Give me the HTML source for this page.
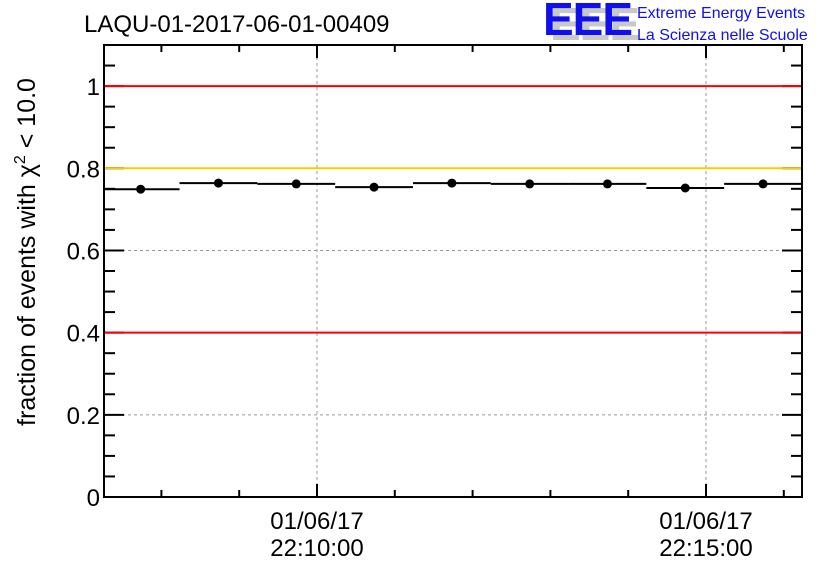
<!DOCTYPE html>
<html><head><meta charset="utf-8"><style>
body{margin:0;background:#fff}
svg text{font-family:"Liberation Sans",sans-serif}
</style></head><body>
<svg id="c" width="836" height="572" xmlns="http://www.w3.org/2000/svg">
<rect width="836" height="572" fill="#fff"/>
<text x="84" y="32" font-size="24" fill="#000">LAQU-01-2017-06-01-00409</text>
<g>
<text x="550" y="40" font-size="46" font-weight="bold" fill="#c8c8c8" letter-spacing="-1">EEE</text>
<text x="543" y="35" font-size="46" font-weight="bold" fill="#1010ee" letter-spacing="-1">EEE</text>
<text x="637" y="18" font-size="16" fill="#1010ee">Extreme Energy Events</text>
<text x="637" y="40" font-size="16" fill="#1010ee">La Scienza nelle Scuole</text>
</g>
<g id="grid"></g>
<g id="axes"></g>
<g id="refs"></g>
<g id="marks"></g>
<text transform="translate(35,252) rotate(-90)" text-anchor="middle" font-size="25">fraction of events with χ<tspan dy="-10" font-size="16">2</tspan><tspan dy="10"> &lt; 10.0</tspan></text>
</svg>
<script>
const binCentersSec = [-136,-76,-16,44,104,164,224,284,344]; // seconds relative to 22:10:00
const fractions = [0.749,0.764,0.762,0.754,0.764,0.762,0.762,0.752,0.762];
const yTicks = [0,0.2,0.4,0.6,0.8,1];
const yTickLabels = ["0","0.2","0.4","0.6","0.8","1"];
const xTicksSec = [0,300];
const xTickLabels = [["01/06/17","22:10:00"],["01/06/17","22:15:00"]];
const refLines = [1.0,0.8,0.4];
const refColors = ["#ff0000","#ffcc00","#ff0000"];
const binWidth = 60;

const L=104,R=802,T=45,B=497;
const X=s=>317+(s)*389/300;
const Y=v=>B-v*(B-T)/1.1;
const NS="http://www.w3.org/2000/svg";
function mk(parent,tag,attrs){const e=document.createElementNS(NS,tag);for(const k in attrs)e.setAttribute(k,attrs[k]);document.getElementById(parent).appendChild(e);return e;}

yTicks.forEach((v,i)=>{
  if(v>0&&v<1&&refLines.indexOf(v)<0){const g=mk('grid','line',{x1:L,x2:R,y1:Y(v),y2:Y(v),stroke:'#999','stroke-dasharray':'3,3','stroke-width':1});
  
  }
  const t=mk('axes','text',{x:L-4,y:Y(v)+9,'text-anchor':'end','font-size':24});
  t.textContent=yTickLabels[i];
  
  
});
xTicksSec.forEach((s,i)=>{
  const g=mk('grid','line',{x1:X(s),x2:X(s),y1:T,y2:B,stroke:'#999','stroke-dasharray':'3,3','stroke-width':1});
  
  
  xTickLabels[i].forEach((l,j)=>{
    const t=mk('axes','text',{x:X(s),y:529+j*27,'text-anchor':'middle','font-size':24});
    t.textContent=l;
    
    
  });
});
const fr=mk('axes','rect',{x:L,y:T,width:R-L,height:B-T,fill:'none',stroke:'#000','stroke-width':2});


for(let k=0;k<=22;k++){const v=k*0.05;const maj=k%4===0;const len=maj?20:11;
  mk('axes','line',{x1:L,x2:L+len,y1:Y(v),y2:Y(v),stroke:'#000','stroke-width':2});
  mk('axes','line',{x1:R,x2:R-len,y1:Y(v),y2:Y(v),stroke:'#000','stroke-width':2});}
for(let s=-180;s<=420;s+=60){const x=X(s);if(x<L+2||x>R-2)continue;const maj=s%300===0;const len=maj?13:7;
  mk('axes','line',{x1:x,x2:x,y1:B,y2:B-len,stroke:'#000','stroke-width':2});
  mk('axes','line',{x1:x,x2:x,y1:T,y2:T+len,stroke:'#000','stroke-width':2});}
refLines.forEach((v,i)=>{
  const l=mk('refs','line',{x1:L+1,x2:R-1,y1:Y(v),y2:Y(v),stroke:refColors[i],'stroke-width':2});
  
  
});
binCentersSec.forEach((s,i)=>{
  const y=Y(fractions[i]);
  const l=mk('marks','line',{x1:Math.max(L,X(s-binWidth/2)),x2:Math.min(R,X(s+binWidth/2)),y1:y,y2:y,stroke:'#000','stroke-width':2});
  
  
  const c=mk('marks','circle',{cx:X(s),cy:y,r:4.5,fill:'#000'});
  
  
});
</script>
</body></html>
